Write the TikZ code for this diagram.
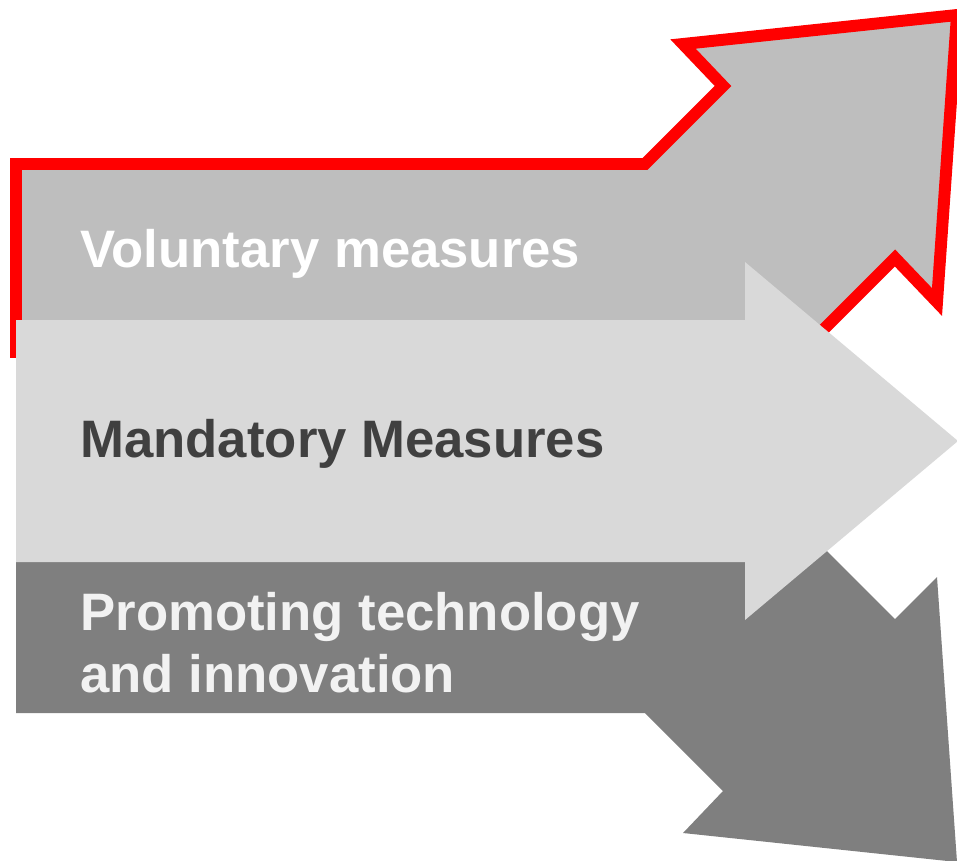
\documentclass[tikz,border=0pt]{standalone}
\usepackage{fontspec}
\setmainfont{Liberation Sans}

\definecolor{volgray}{HTML}{BEBEBE}
\definecolor{mandgray}{HTML}{D9D9D9}
\definecolor{promgray}{HTML}{7F7F7F}
\definecolor{mandtext}{HTML}{404040}
\definecolor{promtext}{HTML}{F2F2F2}
\definecolor{outlinered}{HTML}{FF0000}

\begin{document}
\begin{tikzpicture}[x=0.02cm, y=-0.02cm,
		arrowlabel/.style={anchor=base west, inner sep=0pt, align=left,
			font=\bfseries\fontsize{30}{35.2}\selectfont}]
		%%%%% START %%%%%
		
		\useasboundingbox (0, 0) rectangle (957, 860);
		\clip (0, 0) rectangle (957, 860);
		
		% upper arrow, bent up to the right, red outline
		\draw[fill=volgray, draw=outlinered, line width=6.8pt]
			(16, 352) -- (16, 164) -- (645, 164) -- (723, 86) -- (683, 44)
			-- (957, 15) -- (937, 302) -- (895, 258) -- (801, 352) -- cycle;
		
		% lower arrow, bent down to the right
		\fill[promgray]
			(16, 525) -- (16, 713) -- (645, 713) -- (723, 791) -- (683, 833)
			-- (957, 862) -- (937, 577) -- (895, 619) -- (801, 525) -- cycle;
		
		% straight arrow in the middle
		\fill[mandgray]
			(16, 320) -- (745, 320) -- (745, 262) -- (958, 441)
			-- (745, 620) -- (745, 562) -- (16, 562) -- cycle;
		
		\node[arrowlabel, text=white] (vol) at (80, 267) {Voluntary measures};
		\node[arrowlabel, text=mandtext] (mand) at (80, 457) {Mandatory Measures};
		% base of a two-line node sits on its last line
		\node[arrowlabel, text=promtext] (prom) at (80, 692) {Promoting technology\\and innovation};
		
		%%%%% END %%%%%
	\end{tikzpicture}
\end{document}
